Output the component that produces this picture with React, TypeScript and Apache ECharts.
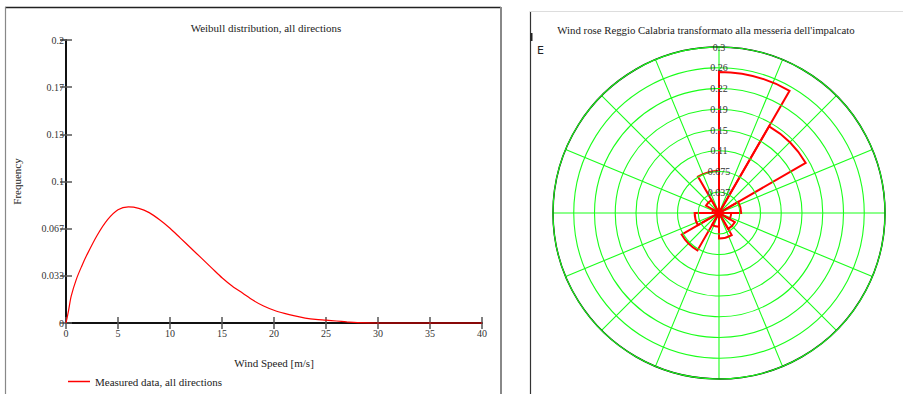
import React, { useEffect, useRef } from "react";
import * as echarts from "echarts";

// Weibull curve
const speeds = [0, 0.25, 0.5, 1, 1.5, 2, 3, 4, 5, 6, 7, 8, 9, 10, 11, 12, 13, 14, 15, 16, 17, 18, 19, 20, 21, 22, 23, 24, 25, 26, 27, 28, 30, 35, 40];
const freq = [0, 0.009, 0.019, 0.031, 0.04, 0.048, 0.062, 0.073, 0.08, 0.082, 0.081, 0.078, 0.073, 0.067, 0.06, 0.053, 0.046, 0.039, 0.032, 0.026, 0.021, 0.016, 0.012, 0.009, 0.0068, 0.005, 0.0035, 0.0025, 0.002, 0.0014, 0.0008, 0.0003, 0, 0, 0];
const yTickLabels = ["0", "0.033", "0.067", "0.1", "0.13", "0.17", "0.2"];

// Wind rose sectors (30° each, clockwise from north)
const directions = ["0", "30", "60", "90", "120", "150", "180", "210", "240", "270", "300", "330"];
const roseValues = [0.255, 0.181, 0.04, 0.022, 0.033, 0.046, 0.025, 0.078, 0.044, 0.012, 0.027, 0.076];
const ringLabels = ["", "0.037", "0.075", "0.11", "0.15", "0.19", "0.22", "0.26", "0.3"];

const SERIF = "'Liberation Serif', 'Times New Roman', serif";
const GREEN = "#1aff1a";

export default function App() {
  const ref = useRef<HTMLDivElement>(null);
  useEffect(() => {
    if (!ref.current) return;
    const chart = echarts.init(ref.current, undefined, { renderer: "svg" });
    const yStep = 0.2 / 6;
    const rStep = 0.3 / 8;
    const tickStyle = { show: true, inside: true, length: 6, lineStyle: { color: "#555", width: 1.5 } };
    const option: any = {
      animation: false,
      backgroundColor: "#fff",
      title: [
        {
          text: "Weibull distribution, all directions",
          left: 261, top: 17, textAlign: "center",
          textStyle: { fontFamily: SERIF, fontSize: 11, fontWeight: "normal", color: "#222" },
        },
        {
          text: "Wind rose Reggio Calabria transformato alla messeria dell'impalcato",
          left: 701, top: 19, textAlign: "center",
          textStyle: { fontFamily: SERIF, fontSize: 10.8, fontWeight: "normal", color: "#222" },
        },
      ],
      legend: {
        left: 68, top: 376, itemWidth: 22, itemHeight: 1.5, itemGap: 6, padding: 0,
        data: [{ name: "Measured data, all directions", icon: "rect" }],
        textStyle: { fontFamily: SERIF, fontSize: 11, color: "#222" },
      },
      grid: { left: 66, top: 40, width: 416, height: 283 },
      xAxis: [
        {
          type: "value", min: 0, max: 40, interval: 5, position: "bottom",
          name: "Wind Speed [m/s]", nameLocation: "middle", nameGap: 34,
          nameTextStyle: { fontFamily: SERIF, fontSize: 11, color: "#222" },
          axisLine: { show: true, lineStyle: { color: "#111", width: 2 } },
          axisTick: tickStyle,
          axisLabel: { fontFamily: SERIF, fontSize: 10, color: "#333", margin: 5 },
          splitLine: { show: false },
        },
        {
          type: "value", min: 0, max: 40, interval: 5, position: "top",
          axisLine: { show: true, lineStyle: { color: "#111", width: 1 } },
          axisTick: tickStyle,
          axisLabel: { show: false },
          splitLine: { show: false },
        },
      ],
      yAxis: [
        {
          type: "value", min: 0, max: 0.2, interval: yStep, position: "left",
          name: "Frequency", nameLocation: "middle", nameGap: 44, nameRotate: 90,
          nameTextStyle: { fontFamily: SERIF, fontSize: 11, color: "#222" },
          axisLine: { show: true, lineStyle: { color: "#111", width: 2 } },
          axisTick: tickStyle,
          axisLabel: {
            fontFamily: SERIF, fontSize: 10, color: "#333", margin: 2,
            formatter: (v: number) => yTickLabels[Math.round(v / yStep)] ?? "",
          },
          splitLine: { show: false },
        },
        {
          type: "value", min: 0, max: 0.2, interval: yStep, position: "right",
          axisLine: { show: true, lineStyle: { color: "#111", width: 2 } },
          axisTick: tickStyle,
          axisLabel: { show: false },
          splitLine: { show: false },
        },
      ],
      polar: [
        { center: [719, 213], radius: 166 },
        { center: [719, 213], radius: 166 },
      ],
      angleAxis: [
        {
          polarIndex: 0, type: "value", min: 0, max: 360, interval: 22.5,
          startAngle: 90, clockwise: true,
          axisLine: { show: true, lineStyle: { color: "#000", width: 1.5 } },
          axisTick: { show: false }, axisLabel: { show: false },
          splitLine: { show: true, lineStyle: { color: GREEN, width: 1.1 } },
          splitArea: { show: false },
        },
        {
          polarIndex: 1, type: "category", data: directions,
          startAngle: 90, clockwise: true, boundaryGap: true,
          axisLine: { show: false }, axisTick: { show: false }, axisLabel: { show: false },
          splitLine: { show: false }, splitArea: { show: false },
        },
      ],
      radiusAxis: [
        {
          polarIndex: 0, type: "value", min: 0, max: 0.3, interval: rStep, z: 10,
          axisLine: { show: false }, axisTick: { show: false },
          axisLabel: {
            show: true, fontFamily: SERIF, fontSize: 10, color: "#333", margin: 0,
            align: "center", verticalAlign: "middle", showMinLabel: false,
            formatter: (v: number) => ringLabels[Math.round(v / rStep)] ?? "",
          },
          splitLine: { show: true, lineStyle: { color: GREEN, width: 1.1 } },
          splitArea: { show: false },
        },
        {
          polarIndex: 1, type: "value", min: 0, max: 0.3,
          axisLine: { show: false }, axisTick: { show: false }, axisLabel: { show: false },
          splitLine: { show: false }, splitArea: { show: false },
        },
      ],
      series: [
        {
          name: "Measured data, all directions",
          type: "line", xAxisIndex: 0, yAxisIndex: 0,
          data: speeds.map((s, i) => [s, freq[i]]),
          smooth: 0.3, symbol: "none", clip: false, z: 5,
          lineStyle: { color: "#ff0000", width: 1.2 },
          itemStyle: { color: "#ff0000" },
        },
        {
          name: "rose",
          type: "bar", coordinateSystem: "polar", polarIndex: 1,
          data: roseValues, barCategoryGap: "0%", barGap: "0%", z: 5,
          itemStyle: { color: "rgba(0,0,0,0)", borderColor: "#ff0000", borderWidth: 2 },
        },
      ],
      graphic: [
        { type: "line", shape: { x1: 5, y1: 7.5, x2: 501, y2: 7.5 }, style: { stroke: "#222", lineWidth: 1.5 } },
        { type: "line", shape: { x1: 5.5, y1: 7, x2: 5.5, y2: 394 }, style: { stroke: "#888", lineWidth: 1.2 } },
        { type: "line", shape: { x1: 501, y1: 7, x2: 501, y2: 394 }, style: { stroke: "#888", lineWidth: 2 } },
        { type: "line", shape: { x1: 530.5, y1: 11, x2: 530.5, y2: 394 }, style: { stroke: "#333", lineWidth: 1.2 } },
        { type: "line", shape: { x1: 530, y1: 11.5, x2: 903, y2: 11.5 }, style: { stroke: "#ddd", lineWidth: 1 } },
        { type: "line", shape: { x1: 531.5, y1: 33, x2: 531.5, y2: 41 }, style: { stroke: "#222", lineWidth: 2 } },
        {
          type: "text", x: 537, y: 45,
          style: { text: "E", font: "11px 'DejaVu Sans', sans-serif", fill: "#222" },
        },
      ],
    };
    chart.setOption(option);
    return () => chart.dispose();
  }, []);
  return (
    <div
      ref={ref}
      style={{ position: "absolute", left: 0, top: 0, width: 903, height: 394 }}
    />
  );
}
